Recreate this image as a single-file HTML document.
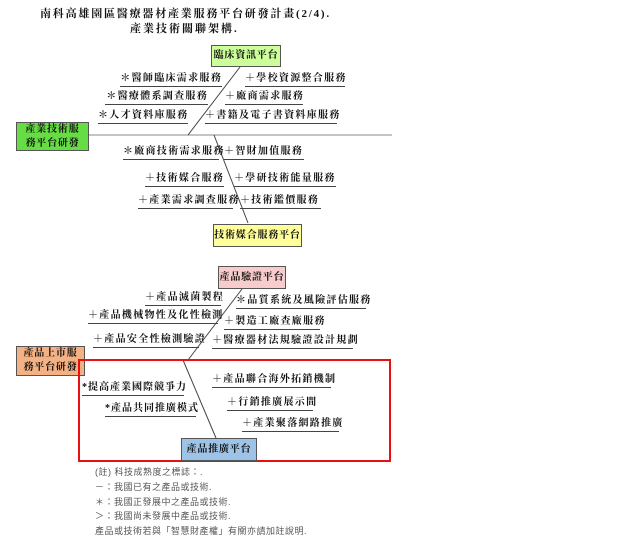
<!DOCTYPE html>
<html><head><meta charset="utf-8">
<style>
body{margin:0;background:#fff;width:640px;height:543px;position:relative;overflow:hidden;font-family:"Liberation Serif","Noto Serif CJK SC","Noto Sans CJK TC",serif;color:#111}
.a{position:absolute;white-space:nowrap}
.t{font-size:10px;font-weight:bold;letter-spacing:1.3px;height:13px;line-height:12px;border-bottom:1px solid #444}
.r{text-align:right}
.b{position:absolute;border:1px solid #555;font-size:10px;font-weight:bold;letter-spacing:0.8px;display:flex;align-items:center;justify-content:center;text-align:center;line-height:14px;white-space:nowrap}
.n{font-size:9px;color:#555;letter-spacing:0.5px;font-family:"Liberation Sans","Noto Sans CJK TC",sans-serif}
</style></head><body>
<div class="a" style="left:40px;top:5px;font-size:11px;font-weight:bold;letter-spacing:1.8px">南科高雄園區醫療器材產業服務平台研發計畫(2/4).</div>
<div class="a" style="left:130px;top:20px;font-size:11px;font-weight:bold;letter-spacing:2px">產業技術關聯架構.</div>

<svg class="a" style="left:0;top:0" width="640" height="543">
<line x1="88" y1="135" x2="392" y2="135" stroke="#888" stroke-width="1"/>
<line x1="240" y1="67" x2="188" y2="135" stroke="#444" stroke-width="1"/>
<line x1="214" y1="135" x2="248" y2="223" stroke="#444" stroke-width="1"/>
<line x1="242" y1="289" x2="188" y2="360" stroke="#444" stroke-width="1"/>
<line x1="183" y1="360" x2="216" y2="438" stroke="#444" stroke-width="1"/>
</svg>

<div class="b" style="left:211px;top:45px;width:68px;height:20px;background:#ccff99">臨床資訊平台</div>
<div class="b" style="left:16px;top:122px;width:71px;height:27px;background:#66dd44">產業技術服<br>務平台研發</div>
<div class="b" style="left:213px;top:224px;width:87px;height:21px;background:#ffff99">技術媒合服務平台</div>

<div class="a t r" style="left:120px;top:73px;width:102px">＊醫師臨床需求服務</div>
<div class="a t r" style="left:105px;top:91px;width:103px">＊醫療體系調查服務</div>
<div class="a t r" style="left:98px;top:110px;width:90px">＊人才資料庫服務</div>
<div class="a t" style="left:245px;top:73px;width:100px">＋學校資源整合服務</div>
<div class="a t" style="left:225px;top:91px;width:78px">＋廠商需求服務</div>
<div class="a t" style="left:205px;top:110px;width:132px">＋書籍及電子書資料庫服務</div>
<div class="a t r" style="left:123px;top:146px;width:96px">＊廠商技術需求服務</div>
<div class="a t r" style="left:145px;top:173px;width:79px">＋技術媒合服務</div>
<div class="a t r" style="left:138px;top:195px;width:95px">＋產業需求調查服務</div>
<div class="a t" style="left:224px;top:146px;width:80px">＋智財加值服務</div>
<div class="a t" style="left:234px;top:173px;width:102px">＋學研技術能量服務</div>
<div class="a t" style="left:240px;top:195px;width:81px">＋技術鑑價服務</div>

<div class="b" style="left:218px;top:266px;width:66px;height:21px;background:#f8cccc">產品驗證平台</div>
<div class="b" style="left:16px;top:346px;width:67px;height:28px;background:#f4b183">產品上市服<br>務平台研發</div>

<div class="a t r" style="left:145px;top:292px;width:76px">＋產品滅菌製程</div>
<div class="a t r" style="left:88px;top:310px;width:130px">＋產品機械物性及化性檢測</div>
<div class="a t r" style="left:93px;top:334px;width:106px">＋產品安全性檢測驗證</div>
<div class="a t" style="left:236px;top:295px;width:130px">＊品質系統及風險評估服務</div>
<div class="a t" style="left:224px;top:316px;width:96px">＋製造工廠查廠服務</div>
<div class="a t" style="left:212px;top:335px;width:141px">＋醫療器材法規驗證設計規劃</div>

<div class="a" style="left:78px;top:359px;width:309px;height:99px;border:2px solid #e81010"></div>
<div class="a t" style="left:82px;top:382px;width:102px;letter-spacing:1px">*提高產業國際競爭力</div>
<div class="a t" style="left:105px;top:403px;width:91px;letter-spacing:1px">*產品共同推廣模式</div>
<div class="a t" style="left:212px;top:374px;width:119px">＋產品聯合海外拓銷機制</div>
<div class="a t" style="left:227px;top:397px;width:86px">＋行銷推廣展示間</div>
<div class="a t" style="left:242px;top:418px;width:97px">＋產業聚落網路推廣</div>
<div class="b" style="left:181px;top:438px;width:74px;height:21px;background:#9dc3e6">產品推廣平台</div>

<div class="a n" style="left:95px;top:465px">(註) 科技成熟度之標誌：.</div>
<div class="a n" style="left:95px;top:480px">－：我國已有之產品或技術.</div>
<div class="a n" style="left:95px;top:495px">＊：我國正發展中之產品或技術.</div>
<div class="a n" style="left:95px;top:509px">＞：我國尚未發展中產品或技術.</div>
<div class="a n" style="left:95px;top:524px">產品或技術若與「智慧財產權」有關亦請加註說明.</div>
</body></html>
